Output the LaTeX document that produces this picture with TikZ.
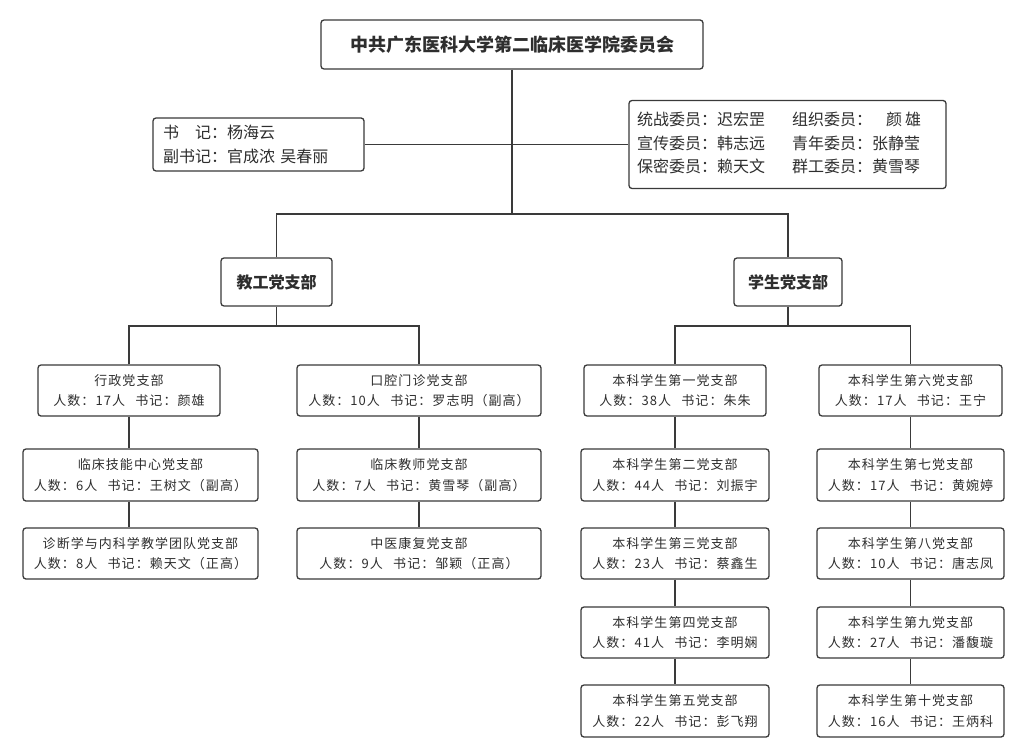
\documentclass[tikz,border=0pt]{standalone}
\usepackage{fontspec}
\setmainfont{Noto Sans CJK SC}
\newfontfamily\bodyfont{Noto Sans CJK SC}[LetterSpace=8]

\definecolor{linec}{HTML}{3A3A3A}
\definecolor{textc}{HTML}{2E2E2E}

\tikzset{
  box/.style={draw=linec, line width=1.3pt, rounded corners=3pt, fill=white, text=textc, align=center, inner sep=0pt},
  head/.style={box, minimum height=48pt, font=\fontsize{16}{20}\selectfont\bfseries},
  unit/.style={box, minimum height=51pt, font=\fontsize{13}{20.5}\bodyfont},
  link/.style={linec, line width=1.3pt},
}

\begin{document}
\begin{tikzpicture}[x=1pt,y=-1pt]
\fill[white] (0,0) rectangle (1024,754);
\useasboundingbox (0,0) rectangle (1024,754);

\node[head, minimum width=382pt, minimum height=49pt, font=\fontsize{18}{22}\selectfont\bfseries] (dw) at (512,44.5) {中共广东医科大学第二临床医学院委员会};
\node[box, minimum height=53pt, text width=191pt, inner xsep=10pt, align=left, font=\fontsize{16}{24}\selectfont] (sj) at (258.5,144.5) {书\hspace{1em}记：杨海云\\副书记：官成浓\ 吴春丽};
\node[box, minimum height=88pt, text width=301pt, inner xsep=8pt, align=left, font=\fontsize{16}{23.5}\selectfont] (wy) at (787.5,144.5) {\begin{tabular}{@{}l@{\hspace{27pt}}l@{}}
统战委员：迟宏罡 & 组织委员：\hspace{14pt}颜\hspace{3pt}雄\\
宣传委员：韩志远 & 青年委员：张静莹\\
保密委员：赖天文 & 群工委员：黄雪琴
\end{tabular}};

\node[head, minimum width=111pt] (jg) at (276.5,282) {教工党支部};
\node[head, minimum width=108pt] (xs) at (788,282) {学生党支部};

\node[unit, minimum width=182pt] (xz) at (129,390.5) {行政党支部\\人数：17人\hspace{.8em}书记：颜雄};
\node[unit, minimum width=235pt, minimum height=52pt] (lcjn) at (140.5,475) {临床技能中心党支部\\人数：6人\hspace{.8em}书记：王树文（副高）};
\node[unit, minimum width=235pt] (zd) at (140.5,553.5) {诊断学与内科学教学团队党支部\\人数：8人\hspace{.8em}书记：赖天文（正高）};

\node[unit, minimum width=244pt] (kq) at (419,390.5) {口腔门诊党支部\\人数：10人\hspace{.8em}书记：罗志明（副高）};
\node[unit, minimum width=244pt, minimum height=52pt] (lcjs) at (419,475) {临床教师党支部\\人数：7人\hspace{.8em}书记：黄雪琴（副高）};
\node[unit, minimum width=244pt] (zy) at (419,553.5) {中医康复党支部\\人数：9人\hspace{.8em}书记：邹颖（正高）};

\node[unit, minimum width=182pt] (b1) at (675,390.5) {本科学生第一党支部\\人数：38人\hspace{.8em}书记：朱朱};
\node[unit, minimum width=188pt, minimum height=52pt] (b2) at (675,475) {本科学生第二党支部\\人数：44人\hspace{.8em}书记：刘振宇};
\node[unit, minimum width=188pt] (b3) at (675,553.5) {本科学生第三党支部\\人数：23人\hspace{.8em}书记：蔡鑫生};
\node[unit, minimum width=188pt] (b4) at (675,632.5) {本科学生第四党支部\\人数：41人\hspace{.8em}书记：李明娴};
\node[unit, minimum width=188pt, minimum height=52pt] (b5) at (675,711) {本科学生第五党支部\\人数：22人\hspace{.8em}书记：彭飞翔};

\node[unit, minimum width=183pt] (b6) at (910.5,390.5) {本科学生第六党支部\\人数：17人\hspace{.8em}书记：王宁};
\node[unit, minimum width=187pt, minimum height=52pt] (b7) at (910.5,475) {本科学生第七党支部\\人数：17人\hspace{.8em}书记：黄婉婷};
\node[unit, minimum width=187pt] (b8) at (910.5,553.5) {本科学生第八党支部\\人数：10人\hspace{.8em}书记：唐志凤};
\node[unit, minimum width=187pt] (b9) at (910.5,632.5) {本科学生第九党支部\\人数：27人\hspace{.8em}书记：潘馥璇};
\node[unit, minimum width=187pt, minimum height=52pt] (b10) at (910.5,711) {本科学生第十党支部\\人数：16人\hspace{.8em}书记：王炳科};

\coordinate (top) at (512,214);
\coordinate (jgf) at (276.5,326);
\coordinate (xsf) at (788,326);
\draw[link] (dw.south) -- (top);
\draw[link] (sj.east) -- (sj.east -| wy.west);
\draw[link] (jg.north) |- (top) -| (xs.north);
\draw[link] (jg.south) -- (jgf);
\draw[link] (xz.north) |- (jgf) -| (kq.north);
\draw[link] (xs.south) -- (xsf);
\draw[link] (b1.north) |- (xsf) -| (b6.north);
\foreach \a/\b in {xz/lcjn,lcjn/zd}
  \draw[link] (xz.south |- \a.south) -- (xz.south |- \b.north);
\foreach \a/\b in {kq/lcjs,lcjs/zy,b1/b2,b2/b3,b3/b4,b4/b5,b6/b7,b7/b8,b8/b9,b9/b10}
  \draw[link] (\a.south) -- (\b.north);
\end{tikzpicture}
\end{document}
